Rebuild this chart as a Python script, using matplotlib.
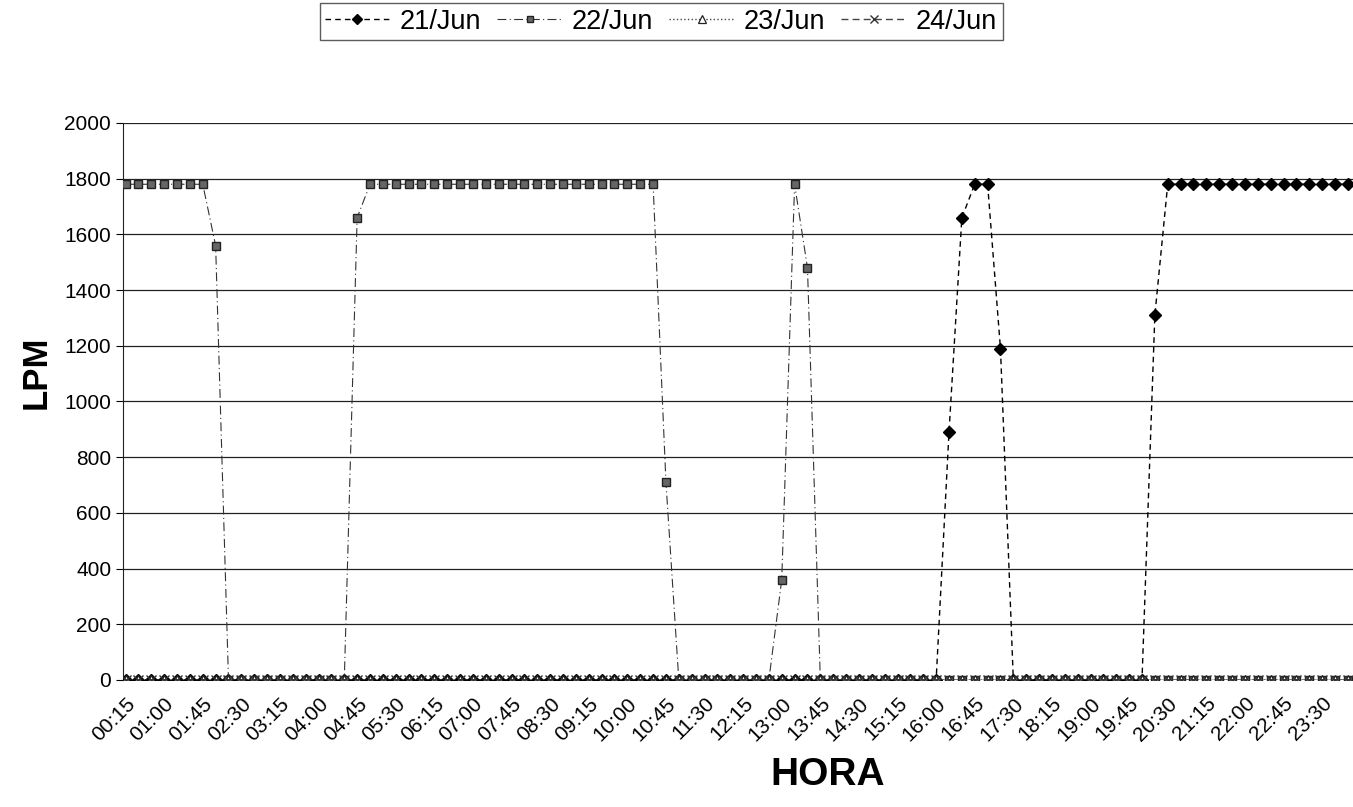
import matplotlib
matplotlib.use('Agg')
from matplotlib import pyplot as plt

plt.rcParams['font.family'] = ['Liberation Sans', 'DejaVu Sans']

# 96 lecturas, cada 15 minutos (00:15 ... 24:00)
horas = ['%02d:%02d' % divmod(15 * (k + 1), 60) for k in range(96)]

# LPM por día (una fila = 3 horas)
jun21 = [0, 0, 0, 0, 0, 0, 0, 0, 0, 0, 0, 0,
         0, 0, 0, 0, 0, 0, 0, 0, 0, 0, 0, 0,
         0, 0, 0, 0, 0, 0, 0, 0, 0, 0, 0, 0,
         0, 0, 0, 0, 0, 0, 0, 0, 0, 0, 0, 0,
         0, 0, 0, 0, 0, 0, 0, 0, 0, 0, 0, 0,
         0, 0, 0, 0, 890, 1660, 1780, 1780, 1190, 0, 0, 0,
         0, 0, 0, 0, 0, 0, 0, 0, 1310, 1780, 1780, 1780,
         1780, 1780, 1780, 1780, 1780, 1780, 1780, 1780, 1780, 1780, 1780, 1780]
jun22 = [1780, 1780, 1780, 1780, 1780, 1780, 1780, 1560, 0, 0, 0, 0,
         0, 0, 0, 0, 0, 0, 1660, 1780, 1780, 1780, 1780, 1780,
         1780, 1780, 1780, 1780, 1780, 1780, 1780, 1780, 1780, 1780, 1780, 1780,
         1780, 1780, 1780, 1780, 1780, 1780, 710, 0, 0, 0, 0, 0,
         0, 0, 0, 360, 1780, 1480, 0, 0, 0, 0, 0, 0,
         0, 0, 0, 0, 0, 0, 0, 0, 0, 0, 0, 0,
         0, 0, 0, 0, 0, 0, 0, 0, 0, 0, 0, 0,
         0, 0, 0, 0, 0, 0, 0, 0, 0, 0, 0, 0]
jun23 = [0] * 96
jun24 = [0] * 96

fig = plt.figure(figsize=(13.53, 8.07), dpi=100)
ax = fig.add_axes([0.0909, 0.1574, 0.9091, 0.6902])

x = list(range(len(horas)))
ax.plot(x, jun21, color='black', ls=(0, (4, 3)), lw=1, marker='D', ms=6,
        label='21/Jun', zorder=3)
ax.plot(x, jun22, color='#333333', ls=(0, (8, 3, 1, 3)), lw=0.8, marker='s', ms=5.5,
        mfc='#666666', mec='#222222', label='22/Jun', zorder=3)
ax.plot(x, jun23, color='#444444', ls=':', lw=1, marker='^', ms=7,
        mfc='white', mec='#222222', mew=0.9, label='23/Jun', zorder=4)
ax.plot(x, jun24, color='#444444', ls=(0, (5, 3)), lw=1, marker='x', ms=7,
        mec='#333333', mew=1, label='24/Jun', zorder=4)

ax.set_xlim(-0.2, 95.4)
ax.set_ylim(0, 2000)
ax.set_yticks(range(0, 2001, 200))
ax.set_xticks(x[::3])
ax.set_xticklabels(horas[::3], rotation=45, ha='right', rotation_mode='anchor')
ax.tick_params(axis='both', labelsize=15, colors='black', length=5, width=0.8)
ax.tick_params(axis='x', length=0, pad=10)
ax.grid(axis='y', color='#222222', lw=0.9)
ax.set_axisbelow(True)
for s in ['top', 'right', 'bottom']:
    ax.spines[s].set_visible(False)
ax.spines['left'].set_color('#222222')

fig.text(0.027, 0.539, 'LPM', rotation=90, fontsize=25, fontweight='bold',
         ha='center', va='center')
fig.text(0.612, 0.04, 'HORA', fontsize=28, fontweight='bold', ha='center', va='center')

leg = fig.legend(loc='center', bbox_to_anchor=(0.4886, 0.973), ncol=4, fontsize=19.5,
                 frameon=True, fancybox=False, edgecolor='#333333', borderpad=0.2,
                 handlelength=2.4, columnspacing=0.6, handletextpad=0.35,
                 markerscale=0.8)
leg.get_frame().set_linewidth(1)

fig.savefig('out.png', dpi=100)
